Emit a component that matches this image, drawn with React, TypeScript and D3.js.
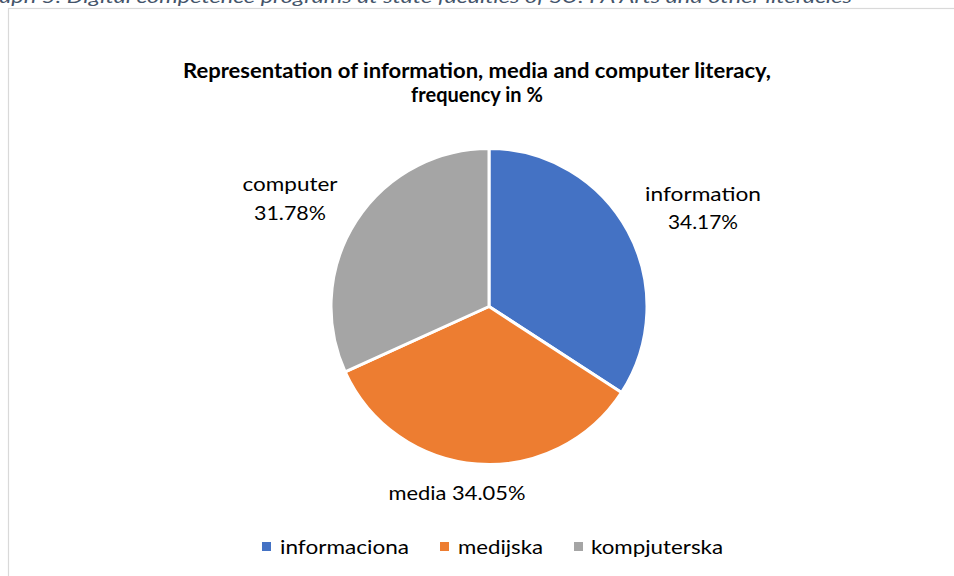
import React from "react";
import * as d3 from "d3";

const categories = ["informaciona", "medijska", "kompjuterska"];
const sliceLabels = ["information", "media", "computer"];
const values = [34.17, 34.05, 31.78];
const colors = ["#4472C4", "#ED7D31", "#A5A5A5"];

const W = 954;
const H = 576;
const FONT = "Lato, 'Open Sans', sans-serif";

export default function App() {
  const cx = 489;
  const cy = 306.5;
  const r = 158;
  const pie = d3.pie<number>().sort(null).value((d) => d)(values);
  const arc = d3.arc<d3.PieArcDatum<number>>().innerRadius(0).outerRadius(r);

  const labelPos = [
    { x: 703, y1: 201, y2: 229, w1: 116, w2: 70, two: true },
    { x: 457, y1: 500, y2: 0, w1: 137, w2: 0, two: false },
    { x: 290, y1: 191, y2: 220, w1: 95, w2: 72, two: true },
  ];

  const legendItems = [
    { sx: 262, tx: 280, w: 129 },
    { sx: 440, tx: 458, w: 85 },
    { sx: 574, tx: 591, w: 132 },
  ];

  const fs = 20;

  return (
    <svg
      width={W}
      height={H}
      style={{ position: "absolute", left: 0, top: 0, background: "#fff" }}
      fontFamily={FONT}
    >
      <rect x={0} y={0} width={W} height={H} fill="#fff" />
      <text
        x={-24}
        y={3}
        fontSize={18}
        fontStyle="italic"
        fill="#44546A"
        textLength={876}
        lengthAdjust="spacingAndGlyphs"
      >
        Graph 5: Digital competence programs  at state faculties of SU: FA Arts and other literacies
      </text>
      <rect x={8.5} y={8.5} width={W + 10} height={H + 10} fill="none" stroke="#D9D9D9" strokeWidth={1.2} />
      <text
        x={477}
        y={78}
        textAnchor="middle"
        fontSize={20}
        fontWeight="bold"
        fill="#000"
        textLength={588}
        lengthAdjust="spacingAndGlyphs"
      >
        Representation of information, media and computer literacy,
      </text>
      <text
        x={477}
        y={102}
        textAnchor="middle"
        fontSize={20}
        fontWeight="bold"
        fill="#000"
      >
        frequency in %
      </text>
      <g transform={`translate(${cx},${cy})`}>
        {pie.map((d, i) => (
          <path key={i} d={arc(d) || ""} fill={colors[i]} stroke="#fff" strokeWidth={3} strokeLinejoin="round" />
        ))}
      </g>
      {pie.map((d, i) => {
        const p = labelPos[i];
        const pct = d.data.toFixed(2) + "%";
        return p.two ? (
          <g key={i}>
            <text x={p.x} y={p.y1} textAnchor="middle" fontSize={fs} fill="#000" textLength={p.w1} lengthAdjust="spacingAndGlyphs">
              {sliceLabels[i]}
            </text>
            <text x={p.x} y={p.y2} textAnchor="middle" fontSize={fs} fill="#000" textLength={p.w2} lengthAdjust="spacingAndGlyphs">
              {pct}
            </text>
          </g>
        ) : (
          <text key={i} x={p.x} y={p.y1} textAnchor="middle" fontSize={fs} fill="#000" textLength={p.w1} lengthAdjust="spacingAndGlyphs">
            {sliceLabels[i] + " " + pct}
          </text>
        );
      })}
      {categories.map((c, i) => (
        <g key={c}>
          <rect x={legendItems[i].sx} y={542} width={9} height={9} fill={colors[i]} />
          <text x={legendItems[i].tx} y={554} fontSize={fs} fill="#000" textLength={legendItems[i].w} lengthAdjust="spacingAndGlyphs">
            {c}
          </text>
        </g>
      ))}
    </svg>
  );
}
